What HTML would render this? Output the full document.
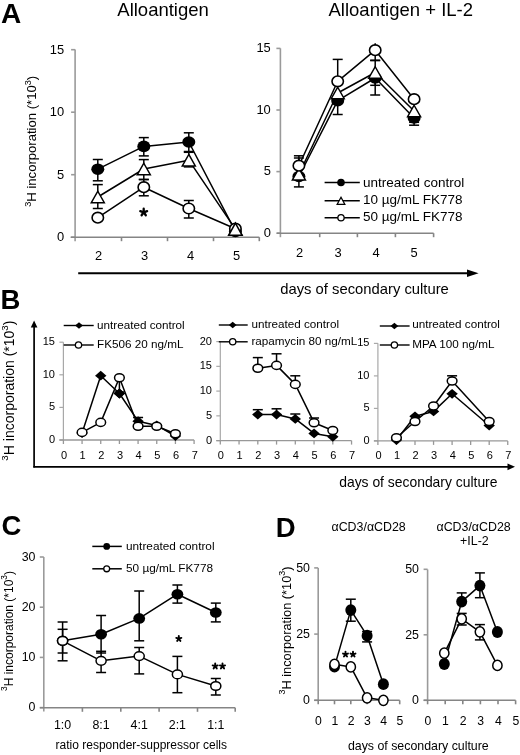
<!DOCTYPE html>
<html><head><meta charset="utf-8"><style>
html,body{margin:0;padding:0;background:#fff;}
body{width:520px;height:755px;overflow:hidden;}
svg{display:block;font-family:"Liberation Sans", sans-serif;will-change:transform;}
</style></head><body>
<svg width="520" height="755" viewBox="0 0 520 755">
<text x="1.0" y="23.3" font-size="28" text-anchor="start" font-weight="bold" fill="#000" >A</text>
<text x="117.3" y="15.7" font-size="18.5" text-anchor="start" font-weight="normal" fill="#000" >Alloantigen</text>
<text x="328.5" y="15.7" font-size="18.5" text-anchor="start" font-weight="normal" fill="#000" >Alloantigen + IL-2</text>
<line x1="75.1" y1="49.4" x2="75.1" y2="241.2" stroke="#9a9a9a" stroke-width="1.6"/>
<line x1="71.1" y1="49.69999999999999" x2="75.1" y2="49.69999999999999" stroke="#9a9a9a" stroke-width="1.6"/>
<text x="64.2" y="53.57" font-size="12.9" text-anchor="end" font-weight="normal" fill="#000" >15</text>
<line x1="71.1" y1="112.19999999999999" x2="75.1" y2="112.19999999999999" stroke="#9a9a9a" stroke-width="1.6"/>
<text x="64.2" y="116.07" font-size="12.9" text-anchor="end" font-weight="normal" fill="#000" >10</text>
<line x1="71.1" y1="174.7" x2="75.1" y2="174.7" stroke="#9a9a9a" stroke-width="1.6"/>
<text x="64.2" y="178.57" font-size="12.9" text-anchor="end" font-weight="normal" fill="#000" >5</text>
<line x1="71.1" y1="237.2" x2="75.1" y2="237.2" stroke="#9a9a9a" stroke-width="1.6"/>
<text x="64.2" y="241.07" font-size="12.9" text-anchor="end" font-weight="normal" fill="#000" >0</text>
<line x1="70.6" y1="237.2" x2="259.3" y2="237.2" stroke="#858585" stroke-width="1.6"/>
<line x1="121.5" y1="237.2" x2="121.5" y2="241.2" stroke="#858585" stroke-width="1.6"/>
<line x1="167.5" y1="237.2" x2="167.5" y2="241.2" stroke="#858585" stroke-width="1.6"/>
<line x1="213.5" y1="237.2" x2="213.5" y2="241.2" stroke="#858585" stroke-width="1.6"/>
<line x1="259.3" y1="237.2" x2="259.3" y2="241.2" stroke="#858585" stroke-width="1.6"/>
<text x="98.7" y="260" font-size="12.9" text-anchor="middle" font-weight="normal" fill="#000" >2</text>
<text x="144.7" y="260" font-size="12.9" text-anchor="middle" font-weight="normal" fill="#000" >3</text>
<text x="190.7" y="260" font-size="12.9" text-anchor="middle" font-weight="normal" fill="#000" >4</text>
<text x="236.5" y="260" font-size="12.9" text-anchor="middle" font-weight="normal" fill="#000" >5</text>
<text transform="translate(36.4,141.3) rotate(-90)" x="0" y="0" font-size="13.1" text-anchor="middle"><tspan font-size="9.17" dy="-5.89">3</tspan><tspan dy="5.89">H incorporation (*10</tspan><tspan font-size="9.17" dy="-5.89">3</tspan><tspan dy="5.89">)</tspan></text>
<polyline points="97.8,169.2 143.8,146.4 188.8,142.0 235.4,231.4" fill="none" stroke="#000" stroke-width="1.5" stroke-linejoin="round"/>
<polyline points="97.8,197.0 143.8,169.0 188.8,160.2 235.4,229.2" fill="none" stroke="#000" stroke-width="1.5" stroke-linejoin="round"/>
<polyline points="97.8,217.7 143.8,187.2 188.8,208.5 235.4,228.7" fill="none" stroke="#000" stroke-width="1.5" stroke-linejoin="round"/>
<line x1="97.8" y1="159.5" x2="97.8" y2="180.8" stroke="#000" stroke-width="1.5"/>
<line x1="92.8" y1="159.5" x2="102.8" y2="159.5" stroke="#000" stroke-width="1.5"/>
<line x1="92.8" y1="180.8" x2="102.8" y2="180.8" stroke="#000" stroke-width="1.5"/>
<line x1="143.8" y1="137.6" x2="143.8" y2="155.9" stroke="#000" stroke-width="1.5"/>
<line x1="138.8" y1="137.6" x2="148.8" y2="137.6" stroke="#000" stroke-width="1.5"/>
<line x1="138.8" y1="155.9" x2="148.8" y2="155.9" stroke="#000" stroke-width="1.5"/>
<line x1="188.8" y1="132.8" x2="188.8" y2="152.3" stroke="#000" stroke-width="1.5"/>
<line x1="183.8" y1="132.8" x2="193.8" y2="132.8" stroke="#000" stroke-width="1.5"/>
<line x1="183.8" y1="152.3" x2="193.8" y2="152.3" stroke="#000" stroke-width="1.5"/>
<line x1="97.8" y1="184.6" x2="97.8" y2="208.5" stroke="#000" stroke-width="1.5"/>
<line x1="92.8" y1="184.6" x2="102.8" y2="184.6" stroke="#000" stroke-width="1.5"/>
<line x1="92.8" y1="208.5" x2="102.8" y2="208.5" stroke="#000" stroke-width="1.5"/>
<line x1="143.8" y1="159.6" x2="143.8" y2="179.5" stroke="#000" stroke-width="1.5"/>
<line x1="138.8" y1="159.6" x2="148.8" y2="159.6" stroke="#000" stroke-width="1.5"/>
<line x1="138.8" y1="179.5" x2="148.8" y2="179.5" stroke="#000" stroke-width="1.5"/>
<line x1="188.8" y1="151.5" x2="188.8" y2="166.9" stroke="#000" stroke-width="1.5"/>
<line x1="183.8" y1="151.5" x2="193.8" y2="151.5" stroke="#000" stroke-width="1.5"/>
<line x1="183.8" y1="166.9" x2="193.8" y2="166.9" stroke="#000" stroke-width="1.5"/>
<line x1="143.8" y1="179.5" x2="143.8" y2="195.8" stroke="#000" stroke-width="1.5"/>
<line x1="138.8" y1="179.5" x2="148.8" y2="179.5" stroke="#000" stroke-width="1.5"/>
<line x1="138.8" y1="195.8" x2="148.8" y2="195.8" stroke="#000" stroke-width="1.5"/>
<line x1="188.8" y1="200.5" x2="188.8" y2="218.0" stroke="#000" stroke-width="1.5"/>
<line x1="183.8" y1="200.5" x2="193.8" y2="200.5" stroke="#000" stroke-width="1.5"/>
<line x1="183.8" y1="218.0" x2="193.8" y2="218.0" stroke="#000" stroke-width="1.5"/>
<ellipse cx="97.8" cy="169.2" rx="6.5" ry="5.8" fill="#000"/>
<ellipse cx="143.8" cy="146.4" rx="6.5" ry="5.8" fill="#000"/>
<ellipse cx="188.8" cy="142.0" rx="6.5" ry="5.8" fill="#000"/>
<ellipse cx="235.4" cy="231.4" rx="6.5" ry="5.8" fill="#000"/>
<polygon points="97.8,191.25 104.3,202.75 91.3,202.75" fill="#fff" stroke="#000" stroke-width="1.5" stroke-linejoin="miter"/>
<polygon points="143.8,163.25 150.3,174.75 137.3,174.75" fill="#fff" stroke="#000" stroke-width="1.5" stroke-linejoin="miter"/>
<polygon points="188.8,154.45 195.3,165.95 182.3,165.95" fill="#fff" stroke="#000" stroke-width="1.5" stroke-linejoin="miter"/>
<polygon points="235.4,223.45 241.9,234.95 228.9,234.95" fill="#fff" stroke="#000" stroke-width="1.5" stroke-linejoin="miter"/>
<ellipse cx="97.8" cy="217.7" rx="5.7" ry="5.3" fill="#fff" stroke="#000" stroke-width="1.6"/>
<ellipse cx="143.8" cy="187.2" rx="5.7" ry="5.3" fill="#fff" stroke="#000" stroke-width="1.6"/>
<ellipse cx="188.8" cy="208.5" rx="5.7" ry="5.3" fill="#fff" stroke="#000" stroke-width="1.6"/>
<ellipse cx="235.4" cy="228.7" rx="5.7" ry="5.3" fill="#fff" stroke="#000" stroke-width="1.6"/>
<polygon points="235.4,223.1 242.1,235.29999999999998 228.70000000000002,235.29999999999998" fill="#fff" stroke="#000" stroke-width="1.5" stroke-linejoin="miter"/>
<path d="M143.70,212.30L143.70,208.70M143.70,212.30L147.12,211.19M143.70,212.30L145.82,215.21M143.70,212.30L141.58,215.21M143.70,212.30L140.28,211.19" stroke="#000" stroke-width="2.3" stroke-linecap="round" fill="none"/>
<line x1="280.4" y1="48.3" x2="280.4" y2="237.2" stroke="#9a9a9a" stroke-width="1.6"/>
<line x1="276.4" y1="48.39999999999998" x2="280.4" y2="48.39999999999998" stroke="#9a9a9a" stroke-width="1.6"/>
<text x="270.8" y="52.27" font-size="12.9" text-anchor="end" font-weight="normal" fill="#000" >15</text>
<line x1="276.4" y1="109.99999999999999" x2="280.4" y2="109.99999999999999" stroke="#9a9a9a" stroke-width="1.6"/>
<text x="270.8" y="113.87" font-size="12.9" text-anchor="end" font-weight="normal" fill="#000" >10</text>
<line x1="276.4" y1="171.6" x2="280.4" y2="171.6" stroke="#9a9a9a" stroke-width="1.6"/>
<text x="270.8" y="175.47" font-size="12.9" text-anchor="end" font-weight="normal" fill="#000" >5</text>
<line x1="276.4" y1="233.2" x2="280.4" y2="233.2" stroke="#9a9a9a" stroke-width="1.6"/>
<text x="270.8" y="237.07" font-size="12.9" text-anchor="end" font-weight="normal" fill="#000" >0</text>
<line x1="276.8" y1="233.2" x2="433.6" y2="233.2" stroke="#858585" stroke-width="1.6"/>
<line x1="319.7" y1="233.2" x2="319.7" y2="237.2" stroke="#858585" stroke-width="1.6"/>
<line x1="357.4" y1="233.2" x2="357.4" y2="237.2" stroke="#858585" stroke-width="1.6"/>
<line x1="395.4" y1="233.2" x2="395.4" y2="237.2" stroke="#858585" stroke-width="1.6"/>
<line x1="433.6" y1="233.2" x2="433.6" y2="237.2" stroke="#858585" stroke-width="1.6"/>
<text x="299.6" y="256.6" font-size="12.9" text-anchor="middle" font-weight="normal" fill="#000" >2</text>
<text x="338.0" y="256.6" font-size="12.9" text-anchor="middle" font-weight="normal" fill="#000" >3</text>
<text x="376.2" y="256.6" font-size="12.9" text-anchor="middle" font-weight="normal" fill="#000" >4</text>
<text x="414.2" y="256.6" font-size="12.9" text-anchor="middle" font-weight="normal" fill="#000" >5</text>
<polyline points="298.9,176.5 337.7,100.7 375.2,78.0 414.1,118.0" fill="none" stroke="#000" stroke-width="1.5" stroke-linejoin="round"/>
<polyline points="298.9,174.2 337.7,93.0 375.2,72.5 414.1,111.0" fill="none" stroke="#000" stroke-width="1.5" stroke-linejoin="round"/>
<polyline points="298.9,165.7 337.7,81.3 375.2,50.2 414.1,99.2" fill="none" stroke="#000" stroke-width="1.5" stroke-linejoin="round"/>
<line x1="298.9" y1="176.5" x2="298.9" y2="186.9" stroke="#000" stroke-width="1.5"/>
<line x1="293.9" y1="186.9" x2="303.9" y2="186.9" stroke="#000" stroke-width="1.5"/>
<line x1="337.7" y1="100.7" x2="337.7" y2="114.5" stroke="#000" stroke-width="1.5"/>
<line x1="332.7" y1="114.5" x2="342.7" y2="114.5" stroke="#000" stroke-width="1.5"/>
<line x1="375.2" y1="78.0" x2="375.2" y2="95.0" stroke="#000" stroke-width="1.5"/>
<line x1="370.2" y1="95.0" x2="380.2" y2="95.0" stroke="#000" stroke-width="1.5"/>
<line x1="414.1" y1="118.0" x2="414.1" y2="125.2" stroke="#000" stroke-width="1.5"/>
<line x1="409.1" y1="125.2" x2="419.1" y2="125.2" stroke="#000" stroke-width="1.5"/>
<line x1="298.9" y1="158.0" x2="298.9" y2="174.2" stroke="#000" stroke-width="1.5"/>
<line x1="293.9" y1="158.0" x2="303.9" y2="158.0" stroke="#000" stroke-width="1.5"/>
<line x1="337.7" y1="93.0" x2="337.7" y2="93.0" stroke="#000" stroke-width="1.5"/>
<line x1="375.2" y1="60.6" x2="375.2" y2="85.3" stroke="#000" stroke-width="1.5"/>
<line x1="370.2" y1="60.6" x2="380.2" y2="60.6" stroke="#000" stroke-width="1.5"/>
<line x1="370.2" y1="85.3" x2="380.2" y2="85.3" stroke="#000" stroke-width="1.5"/>
<line x1="414.1" y1="111.0" x2="414.1" y2="122.3" stroke="#000" stroke-width="1.5"/>
<line x1="409.1" y1="122.3" x2="419.1" y2="122.3" stroke="#000" stroke-width="1.5"/>
<line x1="298.9" y1="155.8" x2="298.9" y2="165.7" stroke="#000" stroke-width="1.5"/>
<line x1="293.9" y1="155.8" x2="303.9" y2="155.8" stroke="#000" stroke-width="1.5"/>
<line x1="337.7" y1="59.4" x2="337.7" y2="81.3" stroke="#000" stroke-width="1.5"/>
<line x1="332.7" y1="59.4" x2="342.7" y2="59.4" stroke="#000" stroke-width="1.5"/>
<line x1="375.2" y1="50.2" x2="375.2" y2="60.2" stroke="#000" stroke-width="1.5"/>
<line x1="370.2" y1="60.2" x2="380.2" y2="60.2" stroke="#000" stroke-width="1.5"/>
<line x1="414.1" y1="99.2" x2="414.1" y2="99.2" stroke="#000" stroke-width="1.5"/>
<line x1="375.2" y1="43.2" x2="375.2" y2="50.2" stroke="#000" stroke-width="1.5"/>
<ellipse cx="298.9" cy="176.5" rx="6.5" ry="5.8" fill="#000"/>
<ellipse cx="337.7" cy="100.7" rx="6.5" ry="5.8" fill="#000"/>
<ellipse cx="375.2" cy="78.0" rx="6.5" ry="5.8" fill="#000"/>
<ellipse cx="414.1" cy="118.0" rx="6.5" ry="5.8" fill="#000"/>
<polygon points="298.9,168.45 305.4,179.95 292.4,179.95" fill="#fff" stroke="#000" stroke-width="1.5" stroke-linejoin="miter"/>
<polygon points="337.7,87.25 344.2,98.75 331.2,98.75" fill="#fff" stroke="#000" stroke-width="1.5" stroke-linejoin="miter"/>
<polygon points="375.2,66.75 381.7,78.25 368.7,78.25" fill="#fff" stroke="#000" stroke-width="1.5" stroke-linejoin="miter"/>
<polygon points="414.1,105.25 420.6,116.75 407.6,116.75" fill="#fff" stroke="#000" stroke-width="1.5" stroke-linejoin="miter"/>
<ellipse cx="298.9" cy="165.7" rx="5.7" ry="5.3" fill="#fff" stroke="#000" stroke-width="1.6"/>
<ellipse cx="337.7" cy="81.3" rx="5.7" ry="5.3" fill="#fff" stroke="#000" stroke-width="1.6"/>
<ellipse cx="375.2" cy="50.2" rx="5.7" ry="5.3" fill="#fff" stroke="#000" stroke-width="1.6"/>
<ellipse cx="414.1" cy="99.2" rx="5.7" ry="5.3" fill="#fff" stroke="#000" stroke-width="1.6"/>
<line x1="324.6" y1="182.5" x2="359.8" y2="182.5" stroke="#000" stroke-width="1.5"/>
<line x1="324.6" y1="200.8" x2="359.8" y2="200.8" stroke="#000" stroke-width="1.5"/>
<line x1="324.6" y1="217.7" x2="359.8" y2="217.7" stroke="#000" stroke-width="1.5"/>
<ellipse cx="341" cy="182.5" rx="3.8" ry="3.8" fill="#000"/>
<polygon points="341,197.3 344.8,204.3 337.2,204.3" fill="#fff" stroke="#000" stroke-width="1.3" stroke-linejoin="miter"/>
<ellipse cx="341" cy="217.7" rx="3.15" ry="3.15" fill="#fff" stroke="#000" stroke-width="1.3"/>
<text x="363" y="186.7" font-size="13.5" text-anchor="start" font-weight="normal" fill="#000" >untreated control</text>
<text x="363" y="203.7" font-size="13.5" text-anchor="start" font-weight="normal" fill="#000" >10 µg/mL FK778</text>
<text x="363" y="221.0" font-size="13.5" text-anchor="start" font-weight="normal" fill="#000" >50 µg/mL FK778</text>
<line x1="78.2" y1="273.3" x2="468.0" y2="273.3" stroke="#000" stroke-width="1.9"/>
<polygon points="478.6,273.3 467.0,269.5 467.0,277.1" fill="#000"/>
<text x="280.2" y="294.0" font-size="14.8" text-anchor="start" font-weight="normal" fill="#000" >days of secondary culture</text>
<text x="0.6" y="309.3" font-size="27.5" text-anchor="start" font-weight="bold" fill="#000" >B</text>
<text transform="translate(14.3,390.6) rotate(-90)" x="0" y="0" font-size="14" text-anchor="middle"><tspan font-size="9.80" dy="-6.30">3</tspan><tspan dy="6.30">H incorporation (*10</tspan><tspan font-size="9.80" dy="-6.30">3</tspan><tspan dy="6.30">)</tspan></text>
<line x1="34.1" y1="467.6" x2="34.1" y2="326.40000000000003" stroke="#000" stroke-width="1.7"/>
<polygon points="34.1,320.6 30.8,327.40000000000003 37.4,327.40000000000003" fill="#000"/>
<line x1="33.3" y1="466.8" x2="508.5" y2="466.8" stroke="#000" stroke-width="1.8"/>
<polygon points="515.0,466.8 507.5,463.40000000000003 507.5,470.2" fill="#000"/>
<text x="339.2" y="487.0" font-size="13.9" text-anchor="start" font-weight="normal" fill="#000" >days of secondary culture</text>
<line x1="63.4" y1="342.2" x2="63.4" y2="440.0" stroke="#a8a8a8" stroke-width="1.2"/>
<line x1="59.4" y1="342.2" x2="63.4" y2="342.2" stroke="#a8a8a8" stroke-width="1.2"/>
<text x="55" y="345.1" font-size="11.0" text-anchor="end" font-weight="normal" fill="#000" >15</text>
<line x1="59.4" y1="374.8" x2="63.4" y2="374.8" stroke="#a8a8a8" stroke-width="1.2"/>
<text x="55" y="377.7" font-size="11.0" text-anchor="end" font-weight="normal" fill="#000" >10</text>
<line x1="59.4" y1="407.4" x2="63.4" y2="407.4" stroke="#a8a8a8" stroke-width="1.2"/>
<text x="55" y="410.3" font-size="11.0" text-anchor="end" font-weight="normal" fill="#000" >5</text>
<line x1="59.4" y1="440.0" x2="63.4" y2="440.0" stroke="#a8a8a8" stroke-width="1.2"/>
<text x="55" y="442.9" font-size="11.0" text-anchor="end" font-weight="normal" fill="#000" >0</text>
<line x1="59.4" y1="440.0" x2="194.09" y2="440.0" stroke="#989898" stroke-width="1.3"/>
<line x1="63.4" y1="440.0" x2="63.4" y2="444.0" stroke="#989898" stroke-width="1.3"/>
<line x1="82.07" y1="440.0" x2="82.07" y2="444.0" stroke="#989898" stroke-width="1.3"/>
<line x1="100.74000000000001" y1="440.0" x2="100.74000000000001" y2="444.0" stroke="#989898" stroke-width="1.3"/>
<line x1="119.41" y1="440.0" x2="119.41" y2="444.0" stroke="#989898" stroke-width="1.3"/>
<line x1="138.08" y1="440.0" x2="138.08" y2="444.0" stroke="#989898" stroke-width="1.3"/>
<line x1="156.75" y1="440.0" x2="156.75" y2="444.0" stroke="#989898" stroke-width="1.3"/>
<line x1="175.42000000000002" y1="440.0" x2="175.42000000000002" y2="444.0" stroke="#989898" stroke-width="1.3"/>
<line x1="194.09" y1="440.0" x2="194.09" y2="444.0" stroke="#989898" stroke-width="1.3"/>
<text x="64.0" y="459.1" font-size="11.0" text-anchor="middle" font-weight="normal" fill="#000" >0</text>
<text x="82.67" y="459.1" font-size="11.0" text-anchor="middle" font-weight="normal" fill="#000" >1</text>
<text x="101.34" y="459.1" font-size="11.0" text-anchor="middle" font-weight="normal" fill="#000" >2</text>
<text x="120.01" y="459.1" font-size="11.0" text-anchor="middle" font-weight="normal" fill="#000" >3</text>
<text x="138.68" y="459.1" font-size="11.0" text-anchor="middle" font-weight="normal" fill="#000" >4</text>
<text x="157.35" y="459.1" font-size="11.0" text-anchor="middle" font-weight="normal" fill="#000" >5</text>
<text x="176.02" y="459.1" font-size="11.0" text-anchor="middle" font-weight="normal" fill="#000" >6</text>
<text x="194.69" y="459.1" font-size="11.0" text-anchor="middle" font-weight="normal" fill="#000" >7</text>
<polyline points="82.07,433.0 100.74000000000001,375.7 119.41,393.5 138.08,421.2 156.75,425.4 175.42000000000002,436.0" fill="none" stroke="#000" stroke-width="1.5" stroke-linejoin="round"/>
<polyline points="82.07,432.4 100.74000000000001,422.4 119.41,377.7 138.08,426.3 156.75,426.3 175.42000000000002,433.7" fill="none" stroke="#000" stroke-width="1.5" stroke-linejoin="round"/>
<line x1="119.41" y1="377.7" x2="119.41" y2="392.0" stroke="#000" stroke-width="1.5"/>
<line x1="114.41" y1="392.0" x2="124.41" y2="392.0" stroke="#000" stroke-width="1.5"/>
<line x1="138.08" y1="417.5" x2="138.08" y2="421.2" stroke="#000" stroke-width="1.5"/>
<line x1="133.08" y1="417.5" x2="143.08" y2="417.5" stroke="#000" stroke-width="1.5"/>
<polygon points="82.07,428.1 87.77,433.0 82.07,437.9 76.36999999999999,433.0" fill="#000"/>
<polygon points="100.74000000000001,370.8 106.44000000000001,375.7 100.74000000000001,380.59999999999997 95.04,375.7" fill="#000"/>
<polygon points="119.41,388.6 125.11,393.5 119.41,398.4 113.71,393.5" fill="#000"/>
<polygon points="138.08,416.3 143.78,421.2 138.08,426.09999999999997 132.38000000000002,421.2" fill="#000"/>
<polygon points="156.75,420.5 162.45,425.4 156.75,430.29999999999995 151.05,425.4" fill="#000"/>
<polygon points="175.42000000000002,431.1 181.12,436.0 175.42000000000002,440.9 169.72000000000003,436.0" fill="#000"/>
<ellipse cx="82.07" cy="432.4" rx="4.85" ry="4.05" fill="#fff" stroke="#000" stroke-width="1.5"/>
<ellipse cx="100.74000000000001" cy="422.4" rx="4.85" ry="4.05" fill="#fff" stroke="#000" stroke-width="1.5"/>
<ellipse cx="119.41" cy="377.7" rx="4.85" ry="4.05" fill="#fff" stroke="#000" stroke-width="1.5"/>
<ellipse cx="138.08" cy="426.3" rx="4.85" ry="4.05" fill="#fff" stroke="#000" stroke-width="1.5"/>
<ellipse cx="156.75" cy="426.3" rx="4.85" ry="4.05" fill="#fff" stroke="#000" stroke-width="1.5"/>
<ellipse cx="175.42000000000002" cy="433.7" rx="4.85" ry="4.05" fill="#fff" stroke="#000" stroke-width="1.5"/>
<polygon points="119.41,388.6 125.11,393.5 119.41,398.4 113.71,393.5" fill="#000"/>
<line x1="63.7" y1="325.5" x2="93.7" y2="325.5" stroke="#000" stroke-width="1.4"/>
<polygon points="79,322.2 82.9,325.5 79,328.8 75.1,325.5" fill="#000"/>
<line x1="63.7" y1="345.0" x2="93.7" y2="345.0" stroke="#000" stroke-width="1.4"/>
<ellipse cx="78.5" cy="345.0" rx="3.15" ry="3.15" fill="#fff" stroke="#000" stroke-width="1.3"/>
<text x="97.0" y="328.6" font-size="11.7" text-anchor="start" font-weight="normal" fill="#000" >untreated control</text>
<text x="97.0" y="348.0" font-size="11.7" text-anchor="start" font-weight="normal" fill="#000" >FK506 20 ng/mL</text>
<line x1="220.3" y1="341.6" x2="220.3" y2="440.6" stroke="#a8a8a8" stroke-width="1.2"/>
<line x1="216.3" y1="341.6" x2="220.3" y2="341.6" stroke="#a8a8a8" stroke-width="1.2"/>
<text x="212" y="344.5" font-size="11.0" text-anchor="end" font-weight="normal" fill="#000" >20</text>
<line x1="216.3" y1="366.35" x2="220.3" y2="366.35" stroke="#a8a8a8" stroke-width="1.2"/>
<text x="212" y="369.25" font-size="11.0" text-anchor="end" font-weight="normal" fill="#000" >15</text>
<line x1="216.3" y1="391.1" x2="220.3" y2="391.1" stroke="#a8a8a8" stroke-width="1.2"/>
<text x="212" y="394.0" font-size="11.0" text-anchor="end" font-weight="normal" fill="#000" >10</text>
<line x1="216.3" y1="415.85" x2="220.3" y2="415.85" stroke="#a8a8a8" stroke-width="1.2"/>
<text x="212" y="418.75" font-size="11.0" text-anchor="end" font-weight="normal" fill="#000" >5</text>
<line x1="216.3" y1="440.6" x2="220.3" y2="440.6" stroke="#a8a8a8" stroke-width="1.2"/>
<text x="212" y="443.5" font-size="11.0" text-anchor="end" font-weight="normal" fill="#000" >0</text>
<line x1="216.3" y1="440.6" x2="351.55" y2="440.6" stroke="#989898" stroke-width="1.3"/>
<line x1="220.3" y1="440.6" x2="220.3" y2="444.6" stroke="#989898" stroke-width="1.3"/>
<line x1="239.05" y1="440.6" x2="239.05" y2="444.6" stroke="#989898" stroke-width="1.3"/>
<line x1="257.8" y1="440.6" x2="257.8" y2="444.6" stroke="#989898" stroke-width="1.3"/>
<line x1="276.55" y1="440.6" x2="276.55" y2="444.6" stroke="#989898" stroke-width="1.3"/>
<line x1="295.3" y1="440.6" x2="295.3" y2="444.6" stroke="#989898" stroke-width="1.3"/>
<line x1="314.05" y1="440.6" x2="314.05" y2="444.6" stroke="#989898" stroke-width="1.3"/>
<line x1="332.8" y1="440.6" x2="332.8" y2="444.6" stroke="#989898" stroke-width="1.3"/>
<line x1="351.55" y1="440.6" x2="351.55" y2="444.6" stroke="#989898" stroke-width="1.3"/>
<text x="220.9" y="459.1" font-size="11.0" text-anchor="middle" font-weight="normal" fill="#000" >0</text>
<text x="239.65" y="459.1" font-size="11.0" text-anchor="middle" font-weight="normal" fill="#000" >1</text>
<text x="258.4" y="459.1" font-size="11.0" text-anchor="middle" font-weight="normal" fill="#000" >2</text>
<text x="277.15" y="459.1" font-size="11.0" text-anchor="middle" font-weight="normal" fill="#000" >3</text>
<text x="295.9" y="459.1" font-size="11.0" text-anchor="middle" font-weight="normal" fill="#000" >4</text>
<text x="314.65" y="459.1" font-size="11.0" text-anchor="middle" font-weight="normal" fill="#000" >5</text>
<text x="333.4" y="459.1" font-size="11.0" text-anchor="middle" font-weight="normal" fill="#000" >6</text>
<text x="352.15" y="459.1" font-size="11.0" text-anchor="middle" font-weight="normal" fill="#000" >7</text>
<polyline points="257.8,414.6 276.55,414.6 295.3,418.9 314.05,433.4 332.8,436.8" fill="none" stroke="#000" stroke-width="1.5" stroke-linejoin="round"/>
<polyline points="257.8,368.3 276.55,365.4 295.3,384.4 314.05,422.7 332.8,430.5" fill="none" stroke="#000" stroke-width="1.5" stroke-linejoin="round"/>
<line x1="257.8" y1="409.7" x2="257.8" y2="414.6" stroke="#000" stroke-width="1.5"/>
<line x1="252.8" y1="409.7" x2="262.8" y2="409.7" stroke="#000" stroke-width="1.5"/>
<line x1="276.55" y1="408.8" x2="276.55" y2="414.6" stroke="#000" stroke-width="1.5"/>
<line x1="271.55" y1="408.8" x2="281.55" y2="408.8" stroke="#000" stroke-width="1.5"/>
<line x1="295.3" y1="414.0" x2="295.3" y2="418.9" stroke="#000" stroke-width="1.5"/>
<line x1="290.3" y1="414.0" x2="300.3" y2="414.0" stroke="#000" stroke-width="1.5"/>
<line x1="257.8" y1="357.6" x2="257.8" y2="368.3" stroke="#000" stroke-width="1.5"/>
<line x1="252.8" y1="357.6" x2="262.8" y2="357.6" stroke="#000" stroke-width="1.5"/>
<line x1="276.55" y1="353.8" x2="276.55" y2="365.4" stroke="#000" stroke-width="1.5"/>
<line x1="271.55" y1="353.8" x2="281.55" y2="353.8" stroke="#000" stroke-width="1.5"/>
<line x1="295.3" y1="375.8" x2="295.3" y2="384.4" stroke="#000" stroke-width="1.5"/>
<line x1="290.3" y1="375.8" x2="300.3" y2="375.8" stroke="#000" stroke-width="1.5"/>
<line x1="314.05" y1="418.0" x2="314.05" y2="422.7" stroke="#000" stroke-width="1.5"/>
<line x1="309.05" y1="418.0" x2="319.05" y2="418.0" stroke="#000" stroke-width="1.5"/>
<polygon points="257.8,409.70000000000005 263.5,414.6 257.8,419.5 252.10000000000002,414.6" fill="#000"/>
<polygon points="276.55,409.70000000000005 282.25,414.6 276.55,419.5 270.85,414.6" fill="#000"/>
<polygon points="295.3,414.0 301.0,418.9 295.3,423.79999999999995 289.6,418.9" fill="#000"/>
<polygon points="314.05,428.5 319.75,433.4 314.05,438.29999999999995 308.35,433.4" fill="#000"/>
<polygon points="332.8,431.90000000000003 338.5,436.8 332.8,441.7 327.1,436.8" fill="#000"/>
<ellipse cx="257.8" cy="368.3" rx="4.85" ry="4.05" fill="#fff" stroke="#000" stroke-width="1.5"/>
<ellipse cx="276.55" cy="365.4" rx="4.85" ry="4.05" fill="#fff" stroke="#000" stroke-width="1.5"/>
<ellipse cx="295.3" cy="384.4" rx="4.85" ry="4.05" fill="#fff" stroke="#000" stroke-width="1.5"/>
<ellipse cx="314.05" cy="422.7" rx="4.85" ry="4.05" fill="#fff" stroke="#000" stroke-width="1.5"/>
<ellipse cx="332.8" cy="430.5" rx="4.85" ry="4.05" fill="#fff" stroke="#000" stroke-width="1.5"/>
<line x1="218.8" y1="325.0" x2="247.7" y2="325.0" stroke="#000" stroke-width="1.4"/>
<polygon points="232.7,321.7 236.6,325.0 232.7,328.3 228.79999999999998,325.0" fill="#000"/>
<line x1="218.8" y1="341.8" x2="247.7" y2="341.8" stroke="#000" stroke-width="1.4"/>
<ellipse cx="232.7" cy="341.8" rx="3.15" ry="3.15" fill="#fff" stroke="#000" stroke-width="1.3"/>
<text x="251.4" y="328.1" font-size="11.7" text-anchor="start" font-weight="normal" fill="#000" >untreated control</text>
<text x="251.4" y="344.7" font-size="11.7" text-anchor="start" font-weight="normal" fill="#000" >rapamycin 80 ng/mL</text>
<line x1="377.9" y1="343.2" x2="377.9" y2="440.9" stroke="#a8a8a8" stroke-width="1.2"/>
<line x1="373.9" y1="343.4" x2="377.9" y2="343.4" stroke="#a8a8a8" stroke-width="1.2"/>
<text x="369.5" y="346.3" font-size="11.0" text-anchor="end" font-weight="normal" fill="#000" >15</text>
<line x1="373.9" y1="375.9" x2="377.9" y2="375.9" stroke="#a8a8a8" stroke-width="1.2"/>
<text x="369.5" y="378.8" font-size="11.0" text-anchor="end" font-weight="normal" fill="#000" >10</text>
<line x1="373.9" y1="408.4" x2="377.9" y2="408.4" stroke="#a8a8a8" stroke-width="1.2"/>
<text x="369.5" y="411.3" font-size="11.0" text-anchor="end" font-weight="normal" fill="#000" >5</text>
<line x1="373.9" y1="440.9" x2="377.9" y2="440.9" stroke="#a8a8a8" stroke-width="1.2"/>
<text x="369.5" y="443.8" font-size="11.0" text-anchor="end" font-weight="normal" fill="#000" >0</text>
<line x1="373.9" y1="440.9" x2="507.75" y2="440.9" stroke="#989898" stroke-width="1.3"/>
<line x1="377.9" y1="440.9" x2="377.9" y2="444.9" stroke="#989898" stroke-width="1.3"/>
<line x1="396.45" y1="440.9" x2="396.45" y2="444.9" stroke="#989898" stroke-width="1.3"/>
<line x1="415.0" y1="440.9" x2="415.0" y2="444.9" stroke="#989898" stroke-width="1.3"/>
<line x1="433.54999999999995" y1="440.9" x2="433.54999999999995" y2="444.9" stroke="#989898" stroke-width="1.3"/>
<line x1="452.09999999999997" y1="440.9" x2="452.09999999999997" y2="444.9" stroke="#989898" stroke-width="1.3"/>
<line x1="470.65" y1="440.9" x2="470.65" y2="444.9" stroke="#989898" stroke-width="1.3"/>
<line x1="489.2" y1="440.9" x2="489.2" y2="444.9" stroke="#989898" stroke-width="1.3"/>
<line x1="507.75" y1="440.9" x2="507.75" y2="444.9" stroke="#989898" stroke-width="1.3"/>
<text x="378.5" y="459.1" font-size="11.0" text-anchor="middle" font-weight="normal" fill="#000" >0</text>
<text x="397.05" y="459.1" font-size="11.0" text-anchor="middle" font-weight="normal" fill="#000" >1</text>
<text x="415.6" y="459.1" font-size="11.0" text-anchor="middle" font-weight="normal" fill="#000" >2</text>
<text x="434.15" y="459.1" font-size="11.0" text-anchor="middle" font-weight="normal" fill="#000" >3</text>
<text x="452.7" y="459.1" font-size="11.0" text-anchor="middle" font-weight="normal" fill="#000" >4</text>
<text x="471.25" y="459.1" font-size="11.0" text-anchor="middle" font-weight="normal" fill="#000" >5</text>
<text x="489.8" y="459.1" font-size="11.0" text-anchor="middle" font-weight="normal" fill="#000" >6</text>
<text x="508.35" y="459.1" font-size="11.0" text-anchor="middle" font-weight="normal" fill="#000" >7</text>
<polyline points="396.45,440.0 415.0,416.3 433.54999999999995,411.4 452.09999999999997,393.8 489.2,425.5" fill="none" stroke="#000" stroke-width="1.5" stroke-linejoin="round"/>
<polyline points="396.45,437.8 415.0,421.5 433.54999999999995,406.0 452.09999999999997,381.0 489.2,421.5" fill="none" stroke="#000" stroke-width="1.5" stroke-linejoin="round"/>
<line x1="452.09999999999997" y1="375.8" x2="452.09999999999997" y2="381.3" stroke="#000" stroke-width="1.5"/>
<line x1="447.09999999999997" y1="375.8" x2="457.09999999999997" y2="375.8" stroke="#000" stroke-width="1.5"/>
<polygon points="396.45,435.1 402.15,440.0 396.45,444.9 390.75,440.0" fill="#000"/>
<polygon points="415.0,411.40000000000003 420.7,416.3 415.0,421.2 409.3,416.3" fill="#000"/>
<polygon points="433.54999999999995,406.5 439.24999999999994,411.4 433.54999999999995,416.29999999999995 427.84999999999997,411.4" fill="#000"/>
<polygon points="452.09999999999997,388.90000000000003 457.79999999999995,393.8 452.09999999999997,398.7 446.4,393.8" fill="#000"/>
<polygon points="489.2,420.6 494.9,425.5 489.2,430.4 483.5,425.5" fill="#000"/>
<ellipse cx="396.45" cy="437.8" rx="4.85" ry="4.05" fill="#fff" stroke="#000" stroke-width="1.5"/>
<ellipse cx="415.0" cy="421.5" rx="4.85" ry="4.05" fill="#fff" stroke="#000" stroke-width="1.5"/>
<ellipse cx="433.54999999999995" cy="406.0" rx="4.85" ry="4.05" fill="#fff" stroke="#000" stroke-width="1.5"/>
<ellipse cx="452.09999999999997" cy="381.0" rx="4.85" ry="4.05" fill="#fff" stroke="#000" stroke-width="1.5"/>
<ellipse cx="489.2" cy="421.5" rx="4.85" ry="4.05" fill="#fff" stroke="#000" stroke-width="1.5"/>
<line x1="379.8" y1="326.0" x2="409.6" y2="326.0" stroke="#000" stroke-width="1.4"/>
<polygon points="394.4,322.7 398.29999999999995,326.0 394.4,329.3 390.5,326.0" fill="#000"/>
<line x1="379.8" y1="345.0" x2="409.6" y2="345.0" stroke="#000" stroke-width="1.4"/>
<ellipse cx="394.4" cy="345.0" rx="3.15" ry="3.15" fill="#fff" stroke="#000" stroke-width="1.3"/>
<text x="412.2" y="328.2" font-size="11.7" text-anchor="start" font-weight="normal" fill="#000" >untreated control</text>
<text x="412.2" y="347.8" font-size="11.7" text-anchor="start" font-weight="normal" fill="#000" >MPA 100 ng/mL</text>
<text x="1.4" y="535.0" font-size="27.5" text-anchor="start" font-weight="bold" fill="#000" >C</text>
<line x1="43.8" y1="557.0" x2="43.8" y2="711.6" stroke="#9a9a9a" stroke-width="1.6"/>
<line x1="39.8" y1="557.0" x2="43.8" y2="557.0" stroke="#9a9a9a" stroke-width="1.6"/>
<text x="35.5" y="560.72" font-size="12.4" text-anchor="end" font-weight="normal" fill="#000" >30</text>
<line x1="39.8" y1="607.2" x2="43.8" y2="607.2" stroke="#9a9a9a" stroke-width="1.6"/>
<text x="35.5" y="610.92" font-size="12.4" text-anchor="end" font-weight="normal" fill="#000" >20</text>
<line x1="39.8" y1="657.4" x2="43.8" y2="657.4" stroke="#9a9a9a" stroke-width="1.6"/>
<text x="35.5" y="661.12" font-size="12.4" text-anchor="end" font-weight="normal" fill="#000" >10</text>
<line x1="39.8" y1="707.6" x2="43.8" y2="707.6" stroke="#9a9a9a" stroke-width="1.6"/>
<text x="35.5" y="711.32" font-size="12.4" text-anchor="end" font-weight="normal" fill="#000" >0</text>
<line x1="39.8" y1="707.8" x2="235.2" y2="707.8" stroke="#858585" stroke-width="1.6"/>
<line x1="82.4" y1="707.8" x2="82.4" y2="711.8" stroke="#858585" stroke-width="1.6"/>
<line x1="120.8" y1="707.8" x2="120.8" y2="711.8" stroke="#858585" stroke-width="1.6"/>
<line x1="159.1" y1="707.8" x2="159.1" y2="711.8" stroke="#858585" stroke-width="1.6"/>
<line x1="197.5" y1="707.8" x2="197.5" y2="711.8" stroke="#858585" stroke-width="1.6"/>
<line x1="235.2" y1="707.8" x2="235.2" y2="711.8" stroke="#858585" stroke-width="1.6"/>
<text x="62.6" y="728.8" font-size="12.4" text-anchor="middle" font-weight="normal" fill="#000" >1:0</text>
<text x="101.1" y="728.8" font-size="12.4" text-anchor="middle" font-weight="normal" fill="#000" >8:1</text>
<text x="139.2" y="728.8" font-size="12.4" text-anchor="middle" font-weight="normal" fill="#000" >4:1</text>
<text x="177.4" y="728.8" font-size="12.4" text-anchor="middle" font-weight="normal" fill="#000" >2:1</text>
<text x="215.8" y="728.8" font-size="12.4" text-anchor="middle" font-weight="normal" fill="#000" >1:1</text>
<text x="55.6" y="748.6" font-size="12.0" text-anchor="start" font-weight="normal" fill="#000" >ratio responder-suppressor cells</text>
<text transform="translate(12.6,631.0) rotate(-90)" x="0" y="0" font-size="12.0" text-anchor="middle"><tspan font-size="8.40" dy="-5.40">3</tspan><tspan dy="5.40">H incorporation (*10</tspan><tspan font-size="8.40" dy="-5.40">3</tspan><tspan dy="5.40">)</tspan></text>
<polyline points="62.6,640.8 101.1,634.3 139.2,618.4 177.4,594.2 215.8,612.5" fill="none" stroke="#000" stroke-width="1.5" stroke-linejoin="round"/>
<polyline points="62.6,640.8 101.1,660.8 139.2,656.1 177.4,674.4 215.8,686.0" fill="none" stroke="#000" stroke-width="1.5" stroke-linejoin="round"/>
<line x1="62.6" y1="622.0" x2="62.6" y2="660.8" stroke="#000" stroke-width="1.5"/>
<line x1="57.6" y1="622.0" x2="67.6" y2="622.0" stroke="#000" stroke-width="1.5"/>
<line x1="57.6" y1="660.8" x2="67.6" y2="660.8" stroke="#000" stroke-width="1.5"/>
<line x1="101.1" y1="615.5" x2="101.1" y2="653.0" stroke="#000" stroke-width="1.5"/>
<line x1="96.1" y1="615.5" x2="106.1" y2="615.5" stroke="#000" stroke-width="1.5"/>
<line x1="96.1" y1="653.0" x2="106.1" y2="653.0" stroke="#000" stroke-width="1.5"/>
<line x1="139.2" y1="591.0" x2="139.2" y2="640.8" stroke="#000" stroke-width="1.5"/>
<line x1="134.2" y1="591.0" x2="144.2" y2="591.0" stroke="#000" stroke-width="1.5"/>
<line x1="134.2" y1="640.8" x2="144.2" y2="640.8" stroke="#000" stroke-width="1.5"/>
<line x1="177.4" y1="585.0" x2="177.4" y2="603.1" stroke="#000" stroke-width="1.5"/>
<line x1="172.4" y1="585.0" x2="182.4" y2="585.0" stroke="#000" stroke-width="1.5"/>
<line x1="172.4" y1="603.1" x2="182.4" y2="603.1" stroke="#000" stroke-width="1.5"/>
<line x1="215.8" y1="603.1" x2="215.8" y2="621.9" stroke="#000" stroke-width="1.5"/>
<line x1="210.8" y1="603.1" x2="220.8" y2="603.1" stroke="#000" stroke-width="1.5"/>
<line x1="210.8" y1="621.9" x2="220.8" y2="621.9" stroke="#000" stroke-width="1.5"/>
<line x1="62.6" y1="629.3" x2="62.6" y2="653.0" stroke="#000" stroke-width="1.5"/>
<line x1="57.6" y1="629.3" x2="67.6" y2="629.3" stroke="#000" stroke-width="1.5"/>
<line x1="57.6" y1="653.0" x2="67.6" y2="653.0" stroke="#000" stroke-width="1.5"/>
<line x1="101.1" y1="651.3" x2="101.1" y2="672.5" stroke="#000" stroke-width="1.5"/>
<line x1="96.1" y1="651.3" x2="106.1" y2="651.3" stroke="#000" stroke-width="1.5"/>
<line x1="96.1" y1="672.5" x2="106.1" y2="672.5" stroke="#000" stroke-width="1.5"/>
<line x1="139.2" y1="647.5" x2="139.2" y2="673.9" stroke="#000" stroke-width="1.5"/>
<line x1="134.2" y1="647.5" x2="144.2" y2="647.5" stroke="#000" stroke-width="1.5"/>
<line x1="134.2" y1="673.9" x2="144.2" y2="673.9" stroke="#000" stroke-width="1.5"/>
<line x1="177.4" y1="656.4" x2="177.4" y2="692.7" stroke="#000" stroke-width="1.5"/>
<line x1="172.4" y1="656.4" x2="182.4" y2="656.4" stroke="#000" stroke-width="1.5"/>
<line x1="172.4" y1="692.7" x2="182.4" y2="692.7" stroke="#000" stroke-width="1.5"/>
<line x1="215.8" y1="678.5" x2="215.8" y2="695.0" stroke="#000" stroke-width="1.5"/>
<line x1="210.8" y1="678.5" x2="220.8" y2="678.5" stroke="#000" stroke-width="1.5"/>
<line x1="210.8" y1="695.0" x2="220.8" y2="695.0" stroke="#000" stroke-width="1.5"/>
<ellipse cx="62.6" cy="640.8" rx="5.9" ry="5.3" fill="#000"/>
<ellipse cx="101.1" cy="634.3" rx="5.9" ry="5.3" fill="#000"/>
<ellipse cx="139.2" cy="618.4" rx="5.9" ry="5.3" fill="#000"/>
<ellipse cx="177.4" cy="594.2" rx="5.9" ry="5.3" fill="#000"/>
<ellipse cx="215.8" cy="612.5" rx="5.9" ry="5.3" fill="#000"/>
<ellipse cx="62.6" cy="640.8" rx="5.05" ry="4.35" fill="#fff" stroke="#000" stroke-width="1.5"/>
<ellipse cx="101.1" cy="660.8" rx="5.05" ry="4.35" fill="#fff" stroke="#000" stroke-width="1.5"/>
<ellipse cx="139.2" cy="656.1" rx="5.05" ry="4.35" fill="#fff" stroke="#000" stroke-width="1.5"/>
<ellipse cx="177.4" cy="674.4" rx="5.05" ry="4.35" fill="#fff" stroke="#000" stroke-width="1.5"/>
<ellipse cx="215.8" cy="686.0" rx="5.05" ry="4.35" fill="#fff" stroke="#000" stroke-width="1.5"/>
<path d="M178.80,638.70L178.80,636.00M178.80,638.70L181.37,637.87M178.80,638.70L180.39,640.88M178.80,638.70L177.21,640.88M178.80,638.70L176.23,637.87" stroke="#000" stroke-width="1.9" stroke-linecap="round" fill="none"/>
<path d="M215.20,666.20L215.20,663.50M215.20,666.20L217.77,665.37M215.20,666.20L216.79,668.38M215.20,666.20L213.61,668.38M215.20,666.20L212.63,665.37" stroke="#000" stroke-width="1.9" stroke-linecap="round" fill="none"/>
<path d="M222.50,666.20L222.50,663.50M222.50,666.20L225.07,665.37M222.50,666.20L224.09,668.38M222.50,666.20L220.91,668.38M222.50,666.20L219.93,665.37" stroke="#000" stroke-width="1.9" stroke-linecap="round" fill="none"/>
<line x1="92.3" y1="546.4" x2="121.8" y2="546.4" stroke="#000" stroke-width="1.5"/>
<ellipse cx="106.7" cy="546.4" rx="3.4" ry="3.4" fill="#000"/>
<line x1="92.3" y1="568.8" x2="121.8" y2="568.8" stroke="#000" stroke-width="1.5"/>
<ellipse cx="106.7" cy="568.8" rx="2.95" ry="2.95" fill="#fff" stroke="#000" stroke-width="1.3"/>
<text x="126.0" y="549.7" font-size="11.8" text-anchor="start" font-weight="normal" fill="#000" >untreated control</text>
<text x="126.0" y="572.0" font-size="11.8" text-anchor="start" font-weight="normal" fill="#000" >50 µg/mL FK778</text>
<text x="275.8" y="537.3" font-size="27.5" text-anchor="start" font-weight="bold" fill="#000" >D</text>
<text x="331.5" y="531.0" font-size="12.4" text-anchor="start" font-weight="normal" fill="#000" >αCD3/αCD28</text>
<text x="473.6" y="531.4" font-size="12.4" text-anchor="middle" font-weight="normal" fill="#000" >αCD3/αCD28</text>
<text x="474.4" y="545.3" font-size="12.4" text-anchor="middle" font-weight="normal" fill="#000" >+IL-2</text>
<text transform="translate(290.8,630.5) rotate(-90)" x="0" y="0" font-size="12.8" text-anchor="middle"><tspan font-size="8.96" dy="-5.76">3</tspan><tspan dy="5.76">H incorporation (*10</tspan><tspan font-size="8.96" dy="-5.76">3</tspan><tspan dy="5.76">)</tspan></text>
<line x1="318.2" y1="568.1" x2="318.2" y2="700.3" stroke="#9a9a9a" stroke-width="1.6"/>
<line x1="314.2" y1="567.9" x2="318.2" y2="567.9" stroke="#9a9a9a" stroke-width="1.6"/>
<text x="310" y="571.62" font-size="12.4" text-anchor="end" font-weight="normal" fill="#000" >50</text>
<line x1="314.2" y1="634.0999999999999" x2="318.2" y2="634.0999999999999" stroke="#9a9a9a" stroke-width="1.6"/>
<text x="310" y="637.82" font-size="12.4" text-anchor="end" font-weight="normal" fill="#000" >25</text>
<line x1="314.2" y1="700.3" x2="318.2" y2="700.3" stroke="#9a9a9a" stroke-width="1.6"/>
<text x="310" y="704.02" font-size="12.4" text-anchor="end" font-weight="normal" fill="#000" >0</text>
<line x1="314.2" y1="700.3" x2="399.7" y2="700.3" stroke="#858585" stroke-width="1.6"/>
<line x1="318.2" y1="700.3" x2="318.2" y2="704.3" stroke="#858585" stroke-width="1.6"/>
<line x1="334.5" y1="700.3" x2="334.5" y2="704.3" stroke="#858585" stroke-width="1.6"/>
<line x1="350.8" y1="700.3" x2="350.8" y2="704.3" stroke="#858585" stroke-width="1.6"/>
<line x1="367.1" y1="700.3" x2="367.1" y2="704.3" stroke="#858585" stroke-width="1.6"/>
<line x1="383.4" y1="700.3" x2="383.4" y2="704.3" stroke="#858585" stroke-width="1.6"/>
<line x1="399.7" y1="700.3" x2="399.7" y2="704.3" stroke="#858585" stroke-width="1.6"/>
<text x="318.5" y="724.6" font-size="12.2" text-anchor="middle" font-weight="normal" fill="#000" >0</text>
<text x="334.8" y="724.6" font-size="12.2" text-anchor="middle" font-weight="normal" fill="#000" >1</text>
<text x="351.1" y="724.6" font-size="12.2" text-anchor="middle" font-weight="normal" fill="#000" >2</text>
<text x="367.4" y="724.6" font-size="12.2" text-anchor="middle" font-weight="normal" fill="#000" >3</text>
<text x="383.7" y="724.6" font-size="12.2" text-anchor="middle" font-weight="normal" fill="#000" >4</text>
<text x="400.0" y="724.6" font-size="12.2" text-anchor="middle" font-weight="normal" fill="#000" >5</text>
<polyline points="334.5,666.6 350.8,610.1 367.1,635.7 383.4,684.2" fill="none" stroke="#000" stroke-width="1.5" stroke-linejoin="round"/>
<polyline points="334.5,664.3 350.8,666.9 367.1,697.8 383.4,700.3" fill="none" stroke="#000" stroke-width="1.5" stroke-linejoin="round"/>
<line x1="350.8" y1="599.2" x2="350.8" y2="621.2" stroke="#000" stroke-width="1.5"/>
<line x1="345.8" y1="599.2" x2="355.8" y2="599.2" stroke="#000" stroke-width="1.5"/>
<line x1="345.8" y1="621.2" x2="355.8" y2="621.2" stroke="#000" stroke-width="1.5"/>
<line x1="367.1" y1="631.5" x2="367.1" y2="641.9" stroke="#000" stroke-width="1.5"/>
<line x1="362.1" y1="631.5" x2="372.1" y2="631.5" stroke="#000" stroke-width="1.5"/>
<line x1="362.1" y1="641.9" x2="372.1" y2="641.9" stroke="#000" stroke-width="1.5"/>
<ellipse cx="334.5" cy="666.6" rx="5.5" ry="5.9" fill="#000"/>
<ellipse cx="350.8" cy="610.1" rx="5.5" ry="5.9" fill="#000"/>
<ellipse cx="367.1" cy="635.7" rx="5.5" ry="5.9" fill="#000"/>
<ellipse cx="383.4" cy="684.2" rx="5.5" ry="5.9" fill="#000"/>
<ellipse cx="334.5" cy="664.3" rx="4.65" ry="5.15" fill="#fff" stroke="#000" stroke-width="1.5"/>
<ellipse cx="350.8" cy="666.9" rx="4.65" ry="5.15" fill="#fff" stroke="#000" stroke-width="1.5"/>
<ellipse cx="367.1" cy="697.8" rx="4.65" ry="5.15" fill="#fff" stroke="#000" stroke-width="1.5"/>
<ellipse cx="383.4" cy="700.3" rx="4.65" ry="5.15" fill="#fff" stroke="#000" stroke-width="1.5"/>
<path d="M345.50,654.40L345.50,651.80M345.50,654.40L347.97,653.60M345.50,654.40L347.03,656.50M345.50,654.40L343.97,656.50M345.50,654.40L343.03,653.60" stroke="#000" stroke-width="1.9" stroke-linecap="round" fill="none"/>
<path d="M353.00,654.40L353.00,651.80M353.00,654.40L355.47,653.60M353.00,654.40L354.53,656.50M353.00,654.40L351.47,656.50M353.00,654.40L350.53,653.60" stroke="#000" stroke-width="1.9" stroke-linecap="round" fill="none"/>
<line x1="427.6" y1="569.5" x2="427.6" y2="700.3" stroke="#9a9a9a" stroke-width="1.6"/>
<line x1="423.6" y1="569.3" x2="427.6" y2="569.3" stroke="#9a9a9a" stroke-width="1.6"/>
<text x="419" y="573.02" font-size="12.4" text-anchor="end" font-weight="normal" fill="#000" >50</text>
<line x1="423.6" y1="634.8" x2="427.6" y2="634.8" stroke="#9a9a9a" stroke-width="1.6"/>
<text x="419" y="638.52" font-size="12.4" text-anchor="end" font-weight="normal" fill="#000" >25</text>
<line x1="423.6" y1="700.3" x2="427.6" y2="700.3" stroke="#9a9a9a" stroke-width="1.6"/>
<text x="419" y="704.02" font-size="12.4" text-anchor="end" font-weight="normal" fill="#000" >0</text>
<line x1="423.6" y1="700.3" x2="515.6" y2="700.3" stroke="#858585" stroke-width="1.6"/>
<line x1="427.6" y1="700.3" x2="427.6" y2="704.3" stroke="#858585" stroke-width="1.6"/>
<line x1="445.20000000000005" y1="700.3" x2="445.20000000000005" y2="704.3" stroke="#858585" stroke-width="1.6"/>
<line x1="462.8" y1="700.3" x2="462.8" y2="704.3" stroke="#858585" stroke-width="1.6"/>
<line x1="480.40000000000003" y1="700.3" x2="480.40000000000003" y2="704.3" stroke="#858585" stroke-width="1.6"/>
<line x1="498.0" y1="700.3" x2="498.0" y2="704.3" stroke="#858585" stroke-width="1.6"/>
<line x1="515.6" y1="700.3" x2="515.6" y2="704.3" stroke="#858585" stroke-width="1.6"/>
<text x="427.9" y="724.6" font-size="12.2" text-anchor="middle" font-weight="normal" fill="#000" >0</text>
<text x="445.5" y="724.6" font-size="12.2" text-anchor="middle" font-weight="normal" fill="#000" >1</text>
<text x="463.1" y="724.6" font-size="12.2" text-anchor="middle" font-weight="normal" fill="#000" >2</text>
<text x="480.7" y="724.6" font-size="12.2" text-anchor="middle" font-weight="normal" fill="#000" >3</text>
<text x="498.3" y="724.6" font-size="12.2" text-anchor="middle" font-weight="normal" fill="#000" >4</text>
<text x="515.9" y="724.6" font-size="12.2" text-anchor="middle" font-weight="normal" fill="#000" >5</text>
<polyline points="444.3,664.0 461.7,601.6 479.9,585.6 497.4,632.0" fill="none" stroke="#000" stroke-width="1.5" stroke-linejoin="round"/>
<polyline points="444.3,653.2 461.7,618.8 479.9,631.8 497.4,665.4" fill="none" stroke="#000" stroke-width="1.5" stroke-linejoin="round"/>
<line x1="461.7" y1="592.9" x2="461.7" y2="601.6" stroke="#000" stroke-width="1.5"/>
<line x1="456.7" y1="592.9" x2="466.7" y2="592.9" stroke="#000" stroke-width="1.5"/>
<line x1="479.9" y1="572.9" x2="479.9" y2="597.7" stroke="#000" stroke-width="1.5"/>
<line x1="474.9" y1="572.9" x2="484.9" y2="572.9" stroke="#000" stroke-width="1.5"/>
<line x1="474.9" y1="597.7" x2="484.9" y2="597.7" stroke="#000" stroke-width="1.5"/>
<line x1="461.7" y1="613.4" x2="461.7" y2="625.0" stroke="#000" stroke-width="1.5"/>
<line x1="456.7" y1="613.4" x2="466.7" y2="613.4" stroke="#000" stroke-width="1.5"/>
<line x1="456.7" y1="625.0" x2="466.7" y2="625.0" stroke="#000" stroke-width="1.5"/>
<line x1="479.9" y1="624.6" x2="479.9" y2="639.9" stroke="#000" stroke-width="1.5"/>
<line x1="474.9" y1="624.6" x2="484.9" y2="624.6" stroke="#000" stroke-width="1.5"/>
<line x1="474.9" y1="639.9" x2="484.9" y2="639.9" stroke="#000" stroke-width="1.5"/>
<ellipse cx="444.3" cy="664.0" rx="5.5" ry="5.9" fill="#000"/>
<ellipse cx="461.7" cy="601.6" rx="5.5" ry="5.9" fill="#000"/>
<ellipse cx="479.9" cy="585.6" rx="5.5" ry="5.9" fill="#000"/>
<ellipse cx="497.4" cy="632.0" rx="5.5" ry="5.9" fill="#000"/>
<ellipse cx="444.3" cy="653.2" rx="4.65" ry="5.15" fill="#fff" stroke="#000" stroke-width="1.5"/>
<ellipse cx="461.7" cy="618.8" rx="4.65" ry="5.15" fill="#fff" stroke="#000" stroke-width="1.5"/>
<ellipse cx="479.9" cy="631.8" rx="4.65" ry="5.15" fill="#fff" stroke="#000" stroke-width="1.5"/>
<ellipse cx="497.4" cy="665.4" rx="4.65" ry="5.15" fill="#fff" stroke="#000" stroke-width="1.5"/>
<text x="347.9" y="750.2" font-size="12.37" text-anchor="start" font-weight="normal" fill="#000" >days of secondary culture</text>
</svg>
</body></html>
